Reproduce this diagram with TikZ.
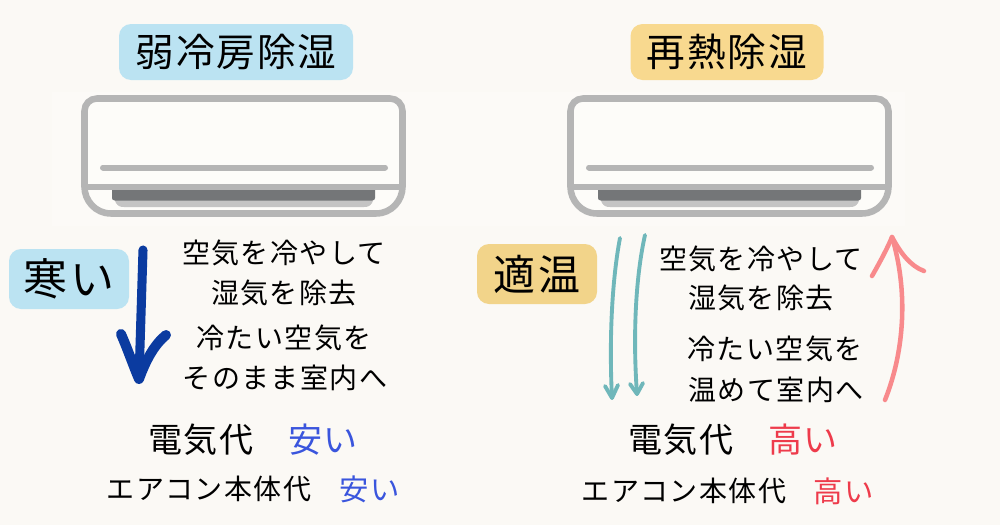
\documentclass[tikz,border=0pt]{standalone}
\usepackage{fontspec}
\setmainfont{Noto Sans CJK JP}[LetterSpace=5]
\definecolor{bgc}{HTML}{FBF9F5}
\definecolor{patch}{HTML}{FCFAF7}
\definecolor{acin}{HTML}{FDFCF9}
\definecolor{acg}{HTML}{B5B5B5}
\definecolor{ventd}{HTML}{747678}
\definecolor{ventl}{HTML}{C4C4C4}
\definecolor{bluebox}{HTML}{BBE3F2}
\definecolor{yellowbox}{HTML}{F8D98F}
\definecolor{yellowbox2}{HTML}{F2D48A}
\definecolor{navy}{HTML}{0B3BA0}
\definecolor{teal2}{HTML}{6FB7BA}
\definecolor{pinkc}{HTML}{F88A8C}
\definecolor{bluet}{HTML}{3A55DD}
\definecolor{redt}{HTML}{EE3B4B}
\newcommand{\fsz}[1]{\fontsize{#1}{#1}\selectfont}
\newcommand{\up}[1]{\raisebox{2pt}{#1}}
\tikzset{
 x=0.75pt,y=-0.75pt,
 tag/.style={rounded corners=9pt,inner sep=0pt,minimum height=42pt,text=black},
 bodytxt/.style={text=black,inner sep=0pt,font=\fsz{21}},
 costa/.style={inner sep=0pt,font=\fsz{25.5}},
 costb/.style={inner sep=0pt,font=\fsz{21}},
 costq/.style={inner sep=0pt,font=\fsz{22}},
 shell/.style={draw=acg,line width=4.9pt},
 acline/.style={draw=acg,line width=4.5pt,line cap=round},
 shaft/.style={line cap=round,line join=round},
}
\newcommand{\acunit}[1]{%
 \begin{scope}[xshift=#1*0.75pt]
  \draw[shell,fill=acin] (97,98.5) -- (390,98.5) .. controls (397,98.5) and (402.5,104) .. (402.5,111) -- (402.5,187) .. controls (402.5,200) and (392,213.5) .. (376,213.5) -- (111,213.5) .. controls (95,213.5) and (84.5,200) .. (84.5,187) -- (84.5,111) .. controls (84.5,104) and (90,98.5) .. (97,98.5) -- cycle;
  \draw[acg,line width=4.5pt] (84.5,187) -- (402.5,187);
  \draw[acline] (103,167.5) -- (385,167.5);
  \fill[ventl] (114,198) -- (374,198) -- (372,203) .. controls (370,206) and (368,207) .. (364,207) -- (124,207) .. controls (120,207) and (118,206) .. (116,203) -- cycle;
  \fill[ventd] (112,190) -- (375,190) -- (375,198) .. controls (375,199.5) and (374,200.5) .. (372,200.5) -- (115,200.5) .. controls (113,200.5) and (112,199.5) .. (112,198) -- cycle;
 \end{scope}}
\begin{document}
\begin{tikzpicture}
\useasboundingbox (0,0) rectangle (1000,525);
\fill[bgc] (0,0) rectangle (1000,525);
\fill[patch] (52,92) rectangle (905,226);
\acunit{0}
\acunit{486}
% titles
\node[tag,fill=bluebox,minimum width=175.5pt,font=\fsz{29}] (t1) at (236,52) {\up{弱冷房除湿}};
\node[tag,fill=yellowbox,minimum width=144.75pt,font=\fsz{29}] (t2) at (727,52) {\up{再熱除湿}};
\node[tag,fill=bluebox,minimum width=90pt,minimum height=45pt,font=\fsz{33}] (cold) at (69,279) {寒い};
\node[tag,fill=yellowbox2,minimum width=90pt,minimum height=45pt,font=\fsz{31.5}] (warm) at (537,274) {適温};
% left text
\node[bodytxt] (a1) at (284,253) {空気を冷やして};
\node[bodytxt] (a2) at (284,293) {湿気を除去};
\node[bodytxt] (a3) at (284,338) {冷たい空気を};
\node[bodytxt] (a4) at (285,378) {そのまま室内へ};
% right text
\node[bodytxt] (b1) at (761,259) {空気を冷やして};
\node[bodytxt] (b2) at (761,298) {湿気を除去};
\node[bodytxt] (b3) at (775,349) {冷たい空気を};
\node[bodytxt] (b4) at (776,390) {温めて室内へ};
% costs
\node[costa,text=black] (c1) at (201,440) {電気代};
\node[costa,text=bluet] (c2) at (323,440) {安い};
\node[costb,text=black] (c3) at (209,489) {エアコン本体代};
\node[costq,text=bluet] (c4) at (370,489) {安い};
\node[costa,text=black] (d1) at (681,440) {電気代};
\node[costa,text=redt] (d2) at (803,440) {高い};
\node[costb,text=black] (d3) at (684,491) {エアコン本体代};
\node[costq,text=redt] (d4) at (844,491) {高い};
% navy arrow
\coordinate (n0) at (143,250);
\coordinate (n1) at (139,379);
\coordinate (n2) at (121,334);
\coordinate (n3) at (166,335);
\draw[shaft,navy,line width=6.8pt] (n0) -- (n1);
\draw[shaft,navy,line width=7.5pt] (n2) .. controls (128,350) and (133,365) .. (n1) .. controls (146,360) and (154,345) .. (n3);
% teal arrows
\coordinate (p0) at (620,238);
\coordinate (p1) at (612,398);
\coordinate (q0) at (645,235);
\coordinate (q1) at (637,394);
\draw[shaft,teal2,line width=2.9pt] (p0) .. controls (612,280) and (609,340) .. (p1);
\draw[shaft,teal2,line width=2.9pt] (605,386) -- (p1) -- (618,385);
\draw[shaft,teal2,line width=2.9pt] (q0) .. controls (635,280) and (633,340) .. (q1);
\draw[shaft,teal2,line width=2.9pt] (630,384) -- (q1) -- (643,383);
% pink arrow
\coordinate (r0) at (885,400);
\coordinate (r1) at (892,237);
\draw[shaft,pinkc,line width=3.4pt] (r0) .. controls (905,350) and (908,290) .. (r1);
\draw[shaft,pinkc,line width=3.4pt] (872,276) .. controls (880,262) and (888,247) .. (r1) .. controls (900,252) and (910,266) .. (924,271);
\end{tikzpicture}
\end{document}
